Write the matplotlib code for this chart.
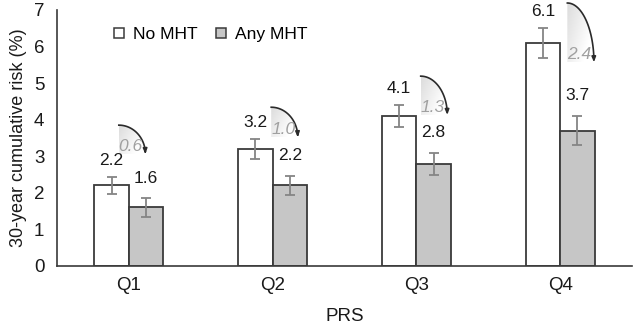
import numpy as np
import matplotlib
matplotlib.use("Agg")
import matplotlib.pyplot as plt
from matplotlib.lines import Line2D
from matplotlib.patches import Polygon

plt.rcParams['font.family'] = ['Liberation Sans', 'DejaVu Sans']

categories = ["Q1", "Q2", "Q3", "Q4"]
no_mht = [2.2, 3.2, 4.1, 6.1]
no_mht_err = [0.23, 0.27, 0.30, 0.41]
any_mht = [1.6, 2.2, 2.8, 3.7]
any_mht_err = [0.25, 0.27, 0.30, 0.40]
series_labels = ["No MHT", "Any MHT"]

# annotation layout (arrow arcs)
arc_x0 = [-0.07, -0.01, 0.03, 0.05]
arc_y0 = [3.85, 4.34, 5.19, 7.19]
arc_y1 = [3.06, 3.52, 4.13, 5.57]
arc_w = 0.185

fig = plt.figure(figsize=(6.34, 3.32), dpi=100)
ax = fig.add_axes([0.0899, 0.199, 0.907, 0.771])

x = np.arange(len(categories))
bw = 0.24
edge = "#3a3a3a"
grey = "#c6c6c6"
ax.bar(x - bw / 2, no_mht, bw, color="white", edgecolor=edge, linewidth=1.3, zorder=2)
ax.bar(x + bw / 2, any_mht, bw, color=grey, edgecolor=edge, linewidth=1.3, zorder=2)
ax.errorbar(x - bw / 2, no_mht, yerr=no_mht_err, fmt="none", ecolor="#858585",
            elinewidth=1.3, capsize=3.5, capthick=1.3, zorder=3)
ax.errorbar(x + bw / 2, any_mht, yerr=any_mht_err, fmt="none", ecolor="#858585",
            elinewidth=1.3, capsize=3.5, capthick=1.3, zorder=3)

txt = "#1a1a1a"
for i in range(len(categories)):
    ax.text(x[i] - bw / 2, no_mht[i] + no_mht_err[i] + 0.45, f"{no_mht[i]:.1f}",
            ha="center", va="center", fontsize=12.5, color=txt, clip_on=False)
    ax.text(x[i] + bw / 2, any_mht[i] + any_mht_err[i] + 0.55, f"{any_mht[i]:.1f}",
            ha="center", va="center", fontsize=12.5, color=txt, clip_on=False)

# curved arrows with gradient wedge
grad = np.linspace(0, 1, 64)
gx, gy = np.meshgrid(grad, grad)
gimg = 0.86 + 0.14 * np.clip(0.8 * gx + 0.5 * gy, 0, 1)  # gy=0 top row
for i in range(len(categories)):
    x0 = x[i] + arc_x0[i]
    y0 = arc_y0[i]
    y1 = arc_y1[i]
    t = np.linspace(np.pi / 2, 0, 60)
    ax_ = x0 + arc_w * np.cos(t)
    ay_ = y1 + (y0 - y1) * np.sin(t)
    poly = Polygon(np.column_stack([np.r_[ax_, x0], np.r_[ay_, y1]]), closed=True,
                   transform=ax.transData)
    im = ax.imshow(gimg, cmap="gray", vmin=0, vmax=1, extent=[x0, x0 + arc_w, y1, y0],
                   aspect="auto", zorder=1, interpolation="bilinear")
    im.set_clip_path(poly)
    im.set_clip_box(fig.bbox)
    ax.plot(ax_[:-4], ay_[:-4], color="#2a2a2a", lw=1.2, clip_on=False, zorder=4)
    ax.annotate("", xy=(ax_[-1], ay_[-1]), xytext=(ax_[-5], ay_[-5]),
                arrowprops=dict(arrowstyle="-|>,head_length=0.3,head_width=0.12",
                                color="#2a2a2a", lw=1.2, shrinkA=0, shrinkB=0),
                annotation_clip=False, zorder=4)
    diff = no_mht[i] - any_mht[i]
    ax.text(x0 + arc_w * 0.45, y1 + 0.2, f"{diff:.1f}", ha="center", va="center",
            fontsize=12.5, style="italic", color="#a0a0a0", zorder=5, clip_on=False)

ax.set_xlim(-0.5, 3.5)
ax.set_ylim(0, 7)
ax.set_xticks(x)
ax.set_xticklabels(categories)
ax.set_yticks(range(0, 8))
ax.tick_params(axis="both", length=0, labelsize=13.5, colors="#1a1a1a")
ax.tick_params(axis="y", pad=9)
ax.tick_params(axis="x", pad=8)
for s in ["top", "right"]:
    ax.spines[s].set_visible(False)
for s in ["left", "bottom"]:
    ax.spines[s].set_color("#3a3a3a")
    ax.spines[s].set_linewidth(1.2)
ax.set_ylabel("30-year cumulative risk (%)", fontsize=13, color="#1a1a1a", labelpad=5)
ax.set_xlabel("PRS", fontsize=13.5, color="#1a1a1a", labelpad=10)

handles = [Line2D([], [], marker="s", ls="none", markersize=6.5, markerfacecolor="white",
                  markeredgecolor=edge, markeredgewidth=1.1),
           Line2D([], [], marker="s", ls="none", markersize=6.5, markerfacecolor=grey,
                  markeredgecolor=edge, markeredgewidth=1.1)]
ax.legend(handles, series_labels, loc="upper left", bbox_to_anchor=(0.08, 0.96), ncol=2,
          frameon=False, fontsize=12.5, handletextpad=0.3, columnspacing=0.9,
          handlelength=1.0, borderaxespad=0)

fig.savefig("out.png", dpi=100)
